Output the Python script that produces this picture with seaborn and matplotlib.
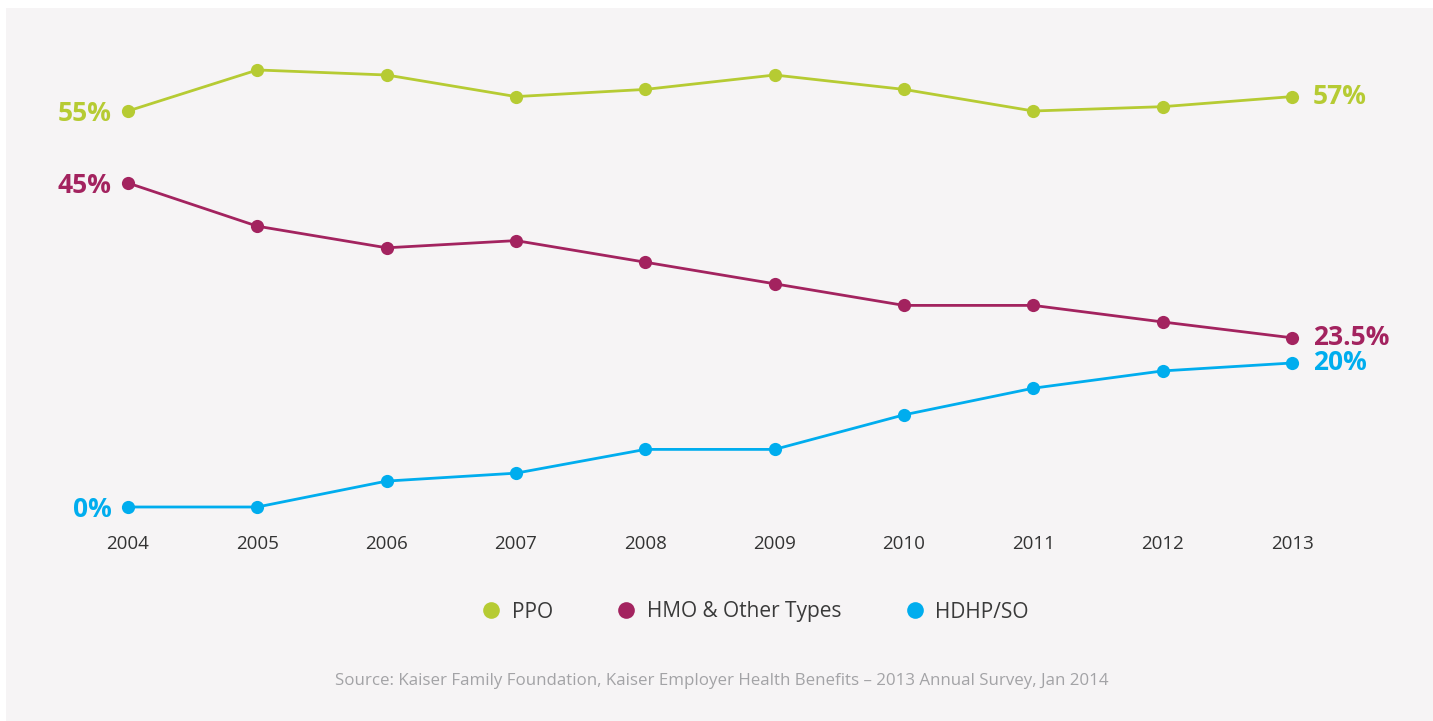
import matplotlib
matplotlib.use("Agg")
import matplotlib.pyplot as plt
from matplotlib.patches import Rectangle
from matplotlib.lines import Line2D
import pandas as pd
import seaborn as sns

# Enrollment share by plan type, 2004-2013 (percent of covered workers)
years = [2004, 2005, 2006, 2007, 2008, 2009, 2010, 2011, 2012, 2013]
ppo = [55, 60.7, 60, 57, 58, 60, 58, 55, 55.6, 57]
hmo_other = [45, 39, 36, 37, 34, 31, 28, 28, 25.7, 23.5]
hdhp_so = [0, 0, 3.6, 4.7, 8, 8, 12.8, 16.5, 18.9, 20]

series_names = ["PPO", "HMO & Other Types", "HDHP/SO"]
series_colors = ["#b6cb33", "#a3235f", "#00adee"]
start_labels = ["55%", "45%", "0%"]
end_labels = ["57%", "23.5%", "20%"]
source_text = ("Source: Kaiser Family Foundation, Kaiser Employer Health Benefits "
               "\u2013 2013 Annual Survey, Jan 2014")

df = pd.DataFrame({
    "year": years * 3,
    "share": ppo + hmo_other + hdhp_so,
    "plan": sum([[n] * len(years) for n in series_names], []),
})

sns.set_theme(style="white")
plt.rcParams["font.family"] = ["Open Sans", "DejaVu Sans"]

W, H = 1433, 721
fig = plt.figure(figsize=(W / 100, H / 100), dpi=100, facecolor="white")

# light grey panel behind the chart
fig.patches.append(Rectangle((6 / W, 0), 1 - 6 / W, (H - 8) / H,
                             transform=fig.transFigure, facecolor="#f6f4f5",
                             edgecolor="none", zorder=-10))

# axes placed in pixel coordinates
ax_l, ax_r, ax_t, ax_b = 100, 1320, 60, 527
ax = fig.add_axes([ax_l / W, 1 - ax_b / H, (ax_r - ax_l) / W, (ax_b - ax_t) / H])
ax.set_facecolor("none")
ax.set_zorder(2)

palette = dict(zip(series_names, series_colors))
sns.lineplot(data=df, x="year", y="share", hue="plan", palette=palette,
             hue_order=series_names, marker="o", markersize=9.5,
             markeredgewidth=0, linewidth=2.0, legend=False, ax=ax)

px_per_year = (1292 - 128) / 9
ax.set_xlim(2004 - 28 / px_per_year, 2013 + (ax_r - 1292) / px_per_year)
px_per_pct = (507 - 183) / 45
ax.set_ylim(-(ax_b - 507) / px_per_pct, (507 - ax_t) / px_per_pct)

ax.set_xticks(years)
ax.set_xticklabels([str(y) for y in years])
ax.set_yticks([])
ax.tick_params(axis="x", length=0, pad=6, labelsize=13.5, labelcolor="#333333")
ax.set_xlabel("")
ax.set_ylabel("")
for s in ax.spines.values():
    s.set_visible(False)

# value labels at both ends of each line
start_vals = [ppo[0], hmo_other[0], hdhp_so[0]]
end_vals = [ppo[-1], hmo_other[-1], hdhp_so[-1]]
for name, col, sl, el, sv, ev in zip(series_names, series_colors, start_labels,
                                     end_labels, start_vals, end_vals):
    ax.annotate(sl, xy=(years[0], sv), xytext=(-12, -2), textcoords="offset points",
                ha="right", va="center", fontsize=19, fontweight="bold", color=col)
    ax.annotate(el, xy=(years[-1], ev), xytext=(15, 0), textcoords="offset points",
                ha="left", va="center", fontsize=19, fontweight="bold", color=col)

handles = [Line2D([], [], linestyle="none", marker="o", markersize=12,
                  markeredgewidth=0, color=c) for c in series_colors]
fig.legend(handles, series_names, loc="center", bbox_to_anchor=(755 / W, 1 - 612 / H),
           ncol=3, frameon=False, fontsize=15, handlelength=1.0, handletextpad=0.5,
           columnspacing=3.0, labelcolor="#3a3a3a")

fig.text(722 / W, 1 - 681 / H, source_text, ha="center", va="center",
         fontsize=12.2, color="#a3a3a6")

fig.savefig("out.png", dpi=100, facecolor="white")
